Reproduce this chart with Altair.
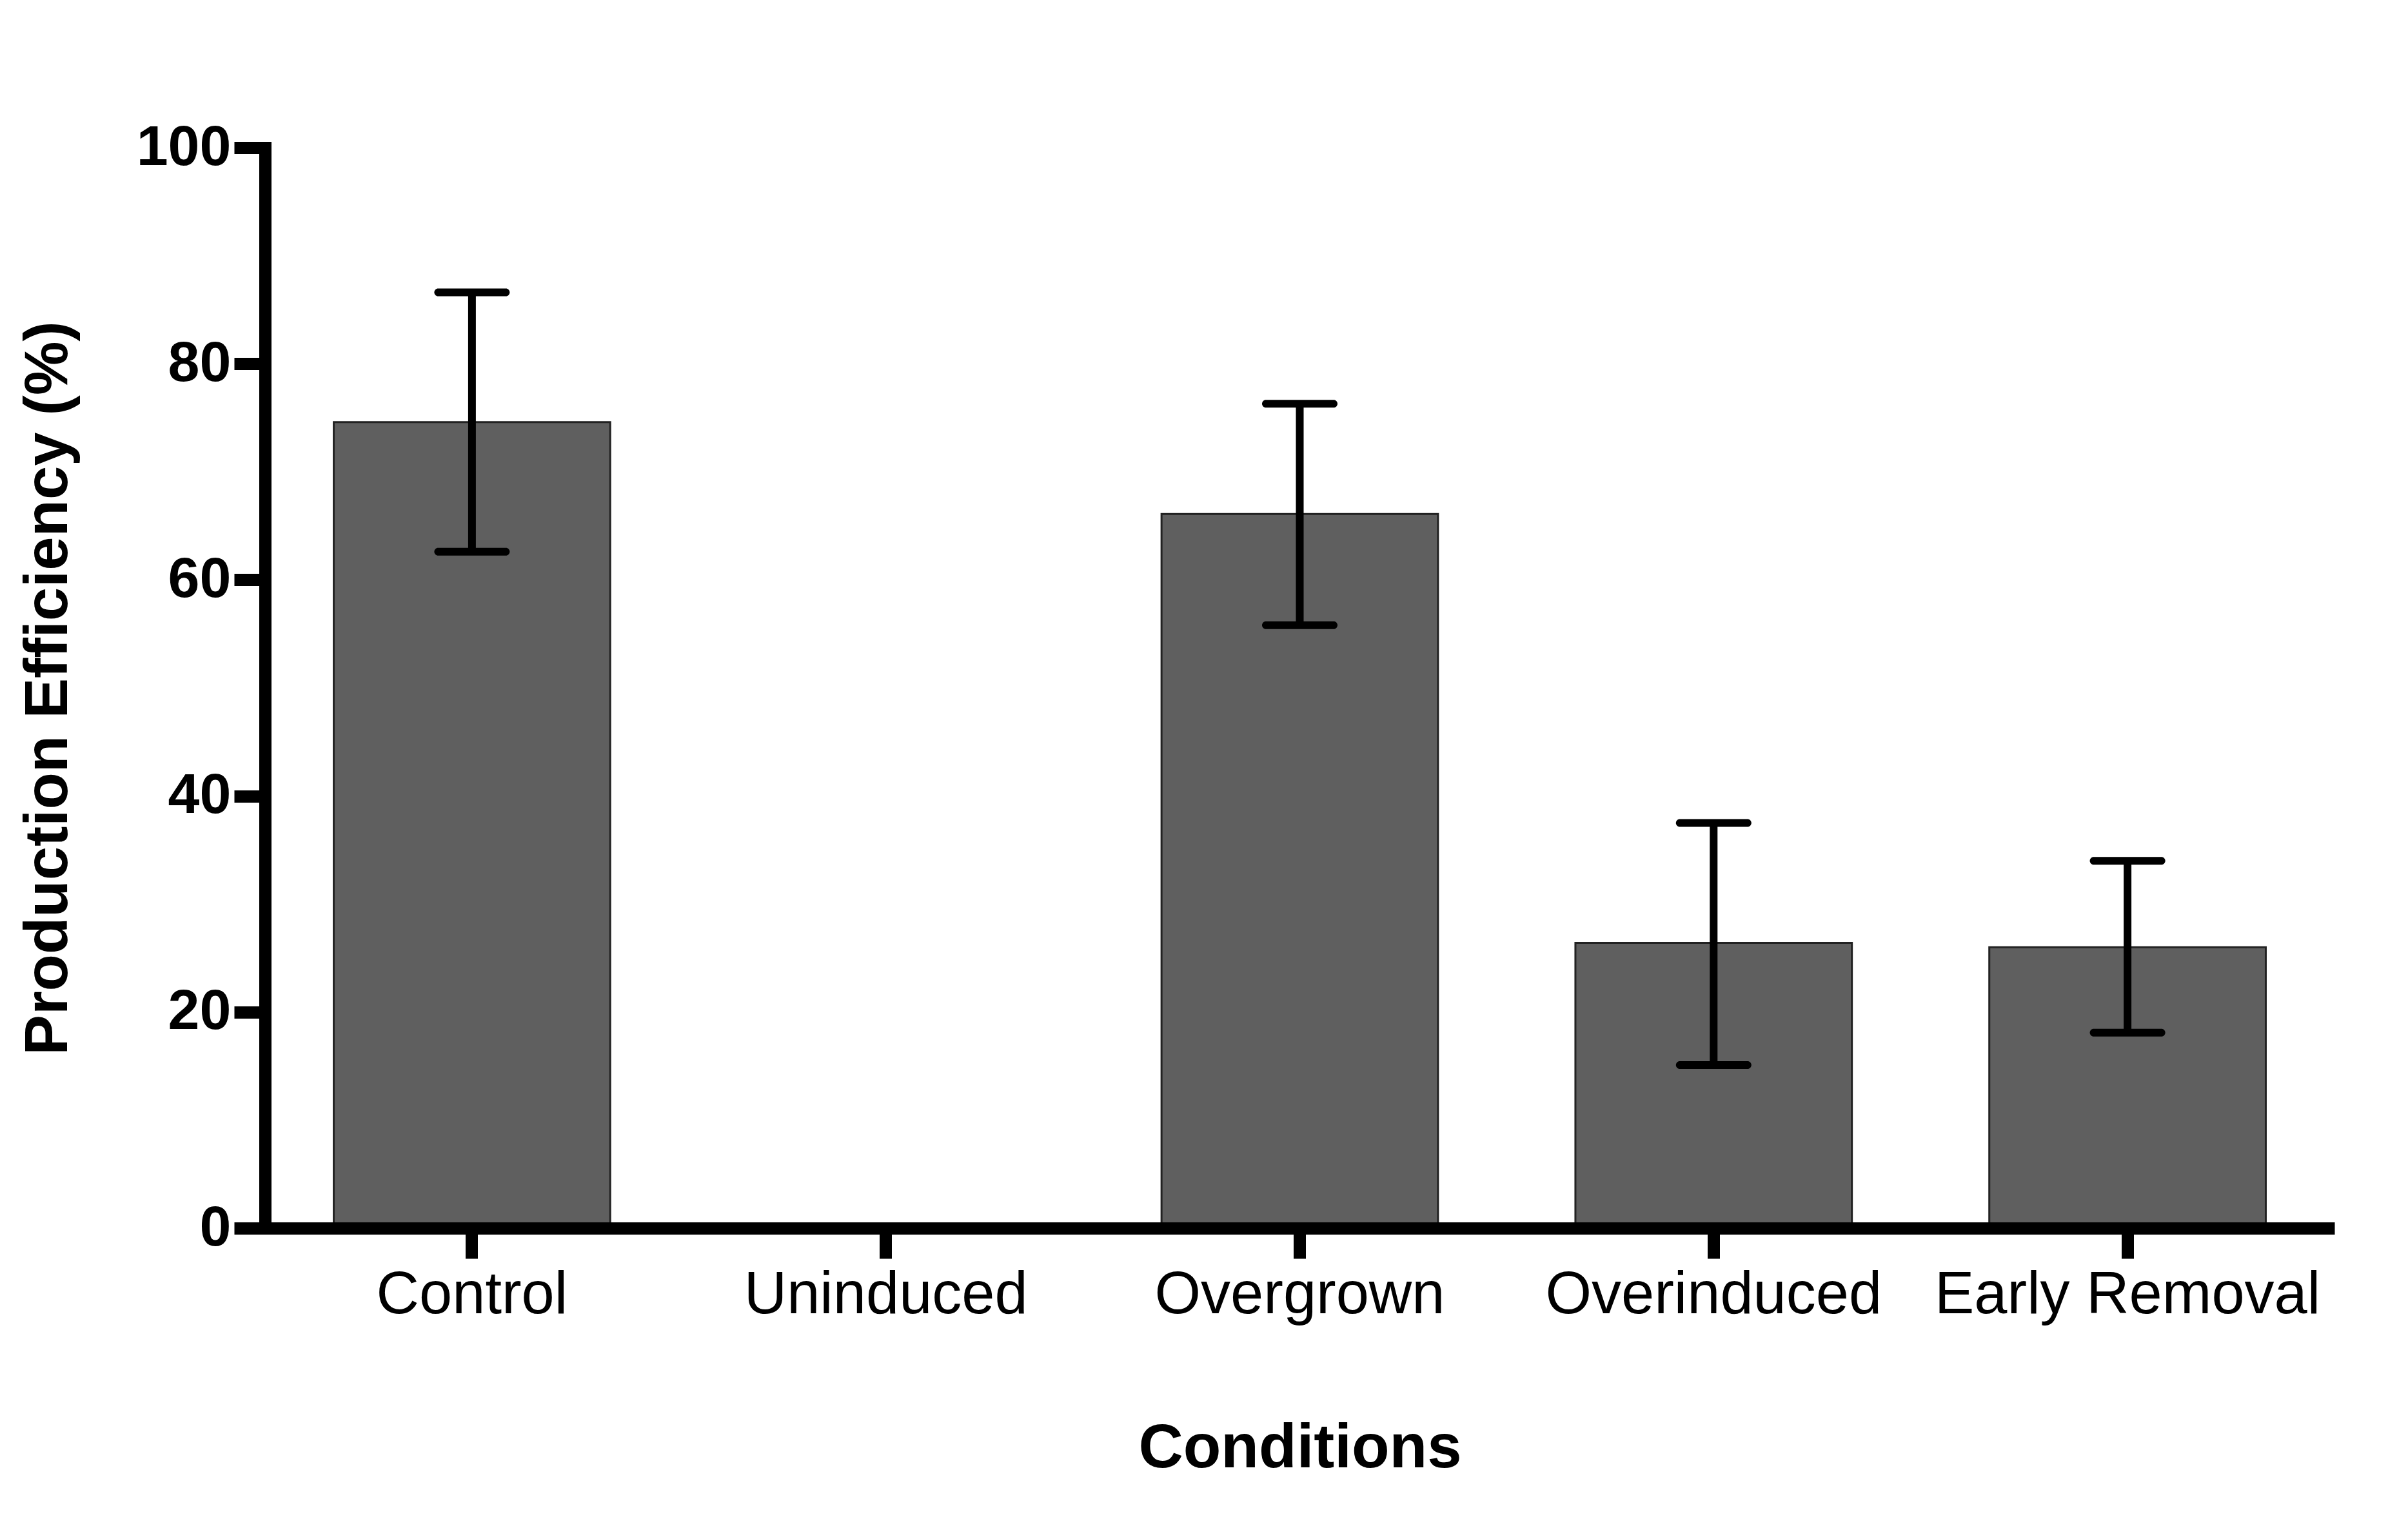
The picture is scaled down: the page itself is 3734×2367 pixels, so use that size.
import altair as alt
import pandas as pd

conditions = ["Control", "Uninduced", "Overgrown", "Overinduced", "Early Removal"]
means = [74.6, 0.0, 66.1, 26.4, 26.0]
err_high = [86.6, None, 76.3, 37.5, 34.0]
err_low = [62.6, None, 55.8, 15.1, 18.1]
y_ticks = [0, 20, 40, 60, 80, 100]

df = pd.DataFrame({"cond": conditions, "mean": means, "hi": err_high, "lo": err_low})
df_err = df.dropna(subset=["hi", "lo"])

FONT = "Liberation Sans"
W, H = 3209, 1676

x_enc = alt.X(
    "cond:N",
    sort=conditions,
    scale=alt.Scale(paddingInner=0.332, paddingOuter=0.166),
    axis=alt.Axis(
        title="Conditions",
        labelAngle=0,
        labelLimit=0,
        labelFont=FONT,
        labelFontSize=92,
        labelColor="black",
        labelPadding=11,
        tickSize=47,
        tickWidth=19,
        tickColor="black",
        domainWidth=19,
        domainColor="black",
        domainCap="butt",
        titleFont=FONT,
        titleFontSize=96,
        titleFontWeight="bold",
        titleColor="black",
        titleY=370,
        titleBaseline="alphabetic",
        zindex=1,
    ),
)

y_axis = alt.Axis(
    title="Production Efficiency (%)",
    values=y_ticks,
    grid=False,
    labelFont=FONT,
    labelFontSize=88,
    labelFontWeight="bold",
    labelColor="black",
    labelPadding=5,
    tickSize=48,
    tickWidth=19,
    tickColor="black",
    domainWidth=19,
    domainColor="black",
    domainCap="square",
    titleFont=FONT,
    titleFontSize=94,
    titleFontWeight="bold",
    titleColor="black",
    titleAngle=270,
    titleX=-308,
    titleY=H / 2,
    titleBaseline="alphabetic",
    titleAlign="center",
    titleLimit=0,
    zindex=1,
)
y_scale = alt.Scale(domain=[0, 100], nice=False)

bars = alt.Chart(df).mark_bar(color="#5f5f5f", stroke="#222222", strokeWidth=3).encode(
    x=x_enc,
    y=alt.Y("mean:Q", scale=y_scale, axis=y_axis),
)

rules = alt.Chart(df_err).mark_rule(color="black", strokeWidth=12).encode(
    x=alt.X("cond:N", sort=conditions),
    y=alt.Y("lo:Q", scale=y_scale),
    y2="hi:Q",
)

caps_hi = alt.Chart(df_err).mark_tick(color="black", thickness=12, size=117, cornerRadius=6, opacity=1).encode(
    x=alt.X("cond:N", sort=conditions),
    y=alt.Y("hi:Q", scale=y_scale),
)
caps_lo = alt.Chart(df_err).mark_tick(color="black", thickness=12, size=117, cornerRadius=6, opacity=1).encode(
    x=alt.X("cond:N", sort=conditions),
    y=alt.Y("lo:Q", scale=y_scale),
)

chart = alt.layer(bars, rules, caps_hi, caps_lo).properties(
    width=W,
    height=H,
    padding={"left": 403, "top": 221, "right": 106, "bottom": 454},
    autosize=alt.AutoSizeParams(type="none"),
    background="white",
).configure_view(stroke=None)

chart.save("out.html", embed_options={"renderer": "svg", "actions": False})
